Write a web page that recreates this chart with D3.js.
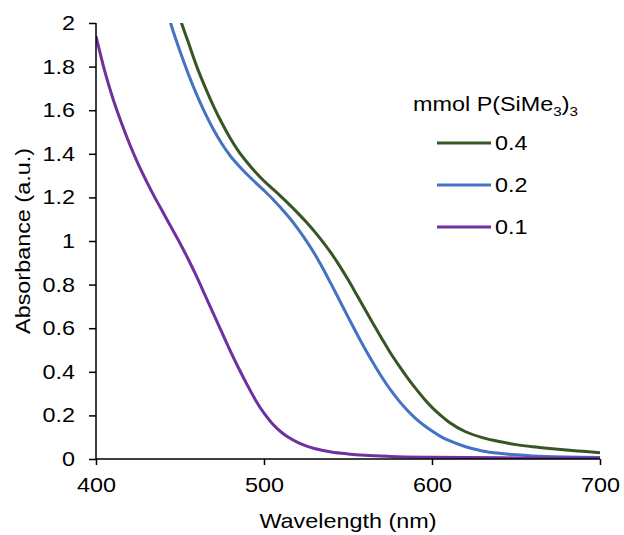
<!DOCTYPE html>
<html>
<head>
<meta charset="utf-8">
<script src="https://cdn.jsdelivr.net/npm/d3@7"></script>
<style>
  body { margin: 0; background: #fff; }
  svg text { font-family: "Liberation Sans", Arial, sans-serif; fill: #000; }
</style>
</head>
<body>
<svg id="chart" width="624" height="535"></svg>
<script>
// Absorbance spectra for three amounts of P(SiMe3)3
const wl01 = [400,405,410,415,420,425,430,435,440,445,450,455,460,465,470,475,480,485,490,495,500,505,510,515,520,525,530,540,550,560,575,600,650,700];
const abs01 = [1.94,1.785,1.655,1.545,1.445,1.355,1.275,1.20,1.13,1.06,0.99,0.915,0.835,0.75,0.665,0.58,0.495,0.415,0.34,0.27,0.21,0.162,0.125,0.097,0.076,0.06,0.048,0.032,0.023,0.017,0.012,0.008,0.005,0.004];

const wl02 = [440,445,450,455,460,465,470,475,480,485,490,495,500,505,510,515,520,525,530,535,540,545,550,555,560,565,570,575,580,585,590,595,600,605,610,620,630,640,650,660,680,700];
const abs02 = [2.12,1.985,1.87,1.765,1.67,1.585,1.51,1.445,1.39,1.345,1.305,1.268,1.232,1.194,1.152,1.108,1.058,1.003,0.943,0.875,0.802,0.727,0.652,0.578,0.507,0.44,0.377,0.32,0.27,0.226,0.188,0.156,0.128,0.104,0.085,0.056,0.037,0.026,0.019,0.014,0.009,0.007];

const wl04 = [445,450,455,460,465,470,475,480,485,490,495,500,505,510,515,520,525,530,535,540,545,550,555,560,565,570,575,580,585,590,595,600,605,610,620,630,640,650,660,670,680,690,700];
const abs04 = [2.14,2.02,1.91,1.80,1.705,1.618,1.54,1.47,1.41,1.36,1.315,1.275,1.24,1.205,1.168,1.129,1.088,1.044,0.996,0.944,0.886,0.823,0.756,0.688,0.62,0.554,0.49,0.432,0.377,0.326,0.279,0.237,0.201,0.17,0.125,0.098,0.08,0.066,0.056,0.048,0.041,0.035,0.029];

const seriesNames = ["0.4", "0.2", "0.1"];
const seriesColors = ["#375623", "#4472C4", "#7030A0"];
const xTicks = [400, 500, 600, 700];
const yTicks = [0, 0.2, 0.4, 0.6, 0.8, 1, 1.2, 1.4, 1.6, 1.8, 2];

const series = [
  { name: seriesNames[0], color: seriesColors[0], pts: wl04.map((w, i) => [w, abs04[i]]) },
  { name: seriesNames[1], color: seriesColors[1], pts: wl02.map((w, i) => [w, abs02[i]]) },
  { name: seriesNames[2], color: seriesColors[2], pts: wl01.map((w, i) => [w, abs01[i]]) }
];

const svg = d3.select("#chart");
const plotL = 96, plotR = 600, plotT = 23, plotB = 459;
const FONT = 20, WIDEN = 1.17;   // glyphs are set a little wide

// widen a text element horizontally about its anchor point
function widen(sel, ax) {
  sel.attr("transform", `translate(${ax},0) scale(${WIDEN},1) translate(${-ax},0)`);
}

const x = d3.scaleLinear().domain([400, 700]).range([plotL, plotR]);
const y = d3.scaleLinear().domain([0, 2]).range([plotB, plotT]);

svg.append("defs").append("clipPath").attr("id", "plot-clip")
  .append("rect").attr("x", plotL).attr("y", plotT).attr("width", plotR - plotL + 4).attr("height", plotB - plotT);

// spectra, drawn back to front
const line = d3.line().x(d => x(d[0])).y(d => y(d[1])).curve(d3.curveMonotoneX);
const g = svg.append("g").attr("clip-path", "url(#plot-clip)");
series.forEach(s => {
  g.append("path").datum(s.pts)
    .attr("d", line)
    .attr("fill", "none")
    .attr("stroke", s.color)
    .attr("stroke-width", 3);
});

// y axis
const yAxis = svg.append("g").attr("transform", `translate(${plotL},0)`)
  .call(d3.axisLeft(y).tickValues(yTicks).tickSize(7).tickPadding(14).tickFormat(d3.format("~g")));
// x axis
const xAxis = svg.append("g").attr("transform", `translate(0,${plotB})`)
  .call(d3.axisBottom(x).tickValues(xTicks).tickSize(6).tickPadding(13).tickFormat(d3.format("d")));

[yAxis, xAxis].forEach(ax => {
  ax.select(".domain").attr("stroke", "#000").attr("stroke-width", 1.5);
  ax.selectAll(".tick line").attr("stroke", "#000").attr("stroke-width", 1.5);
  ax.selectAll(".tick text").attr("font-size", FONT).attr("font-family", "Liberation Sans, Arial, sans-serif").attr("fill", "#000")
    .each(function () { widen(d3.select(this), +d3.select(this).attr("x") || 0); });
});
// plain axis lines without outer ticks
yAxis.select(".domain").attr("d", `M0,${plotT}V${plotB}`);
xAxis.select(".domain").attr("d", `M${plotL},0H${plotR}`);

// axis titles
const xTitle = svg.append("text")
  .attr("x", (plotL + plotR) / 2).attr("y", 528)
  .attr("text-anchor", "middle").attr("font-size", FONT)
  .text("Wavelength (nm)");
widen(xTitle, (plotL + plotR) / 2);
svg.append("text")
  .attr("transform", `translate(30,${(plotT + plotB) / 2}) rotate(-90) scale(${WIDEN},1)`)
  .attr("text-anchor", "middle").attr("font-size", FONT)
  .text("Absorbance (a.u.)");

// legend
const leg = svg.append("g");
const title = leg.append("text").attr("x", 413).attr("y", 111).attr("font-size", FONT);
title.append("tspan").text("mmol P(SiMe");
title.append("tspan").attr("font-size", 13).attr("dy", 5).text("3");
title.append("tspan").attr("dy", -5).text(")");
title.append("tspan").attr("font-size", 13).attr("dy", 5).text("3");
widen(title, 413);

series.forEach((s, i) => {
  const ly = 143 + i * 42;
  leg.append("line").attr("x1", 437).attr("x2", 491).attr("y1", ly).attr("y2", ly)
    .attr("stroke", s.color).attr("stroke-width", 3);
  const t = leg.append("text").attr("x", 495).attr("y", ly + 7).attr("font-size", FONT).text(s.name);
  widen(t, 495);
});
</script>
</body>
</html>
